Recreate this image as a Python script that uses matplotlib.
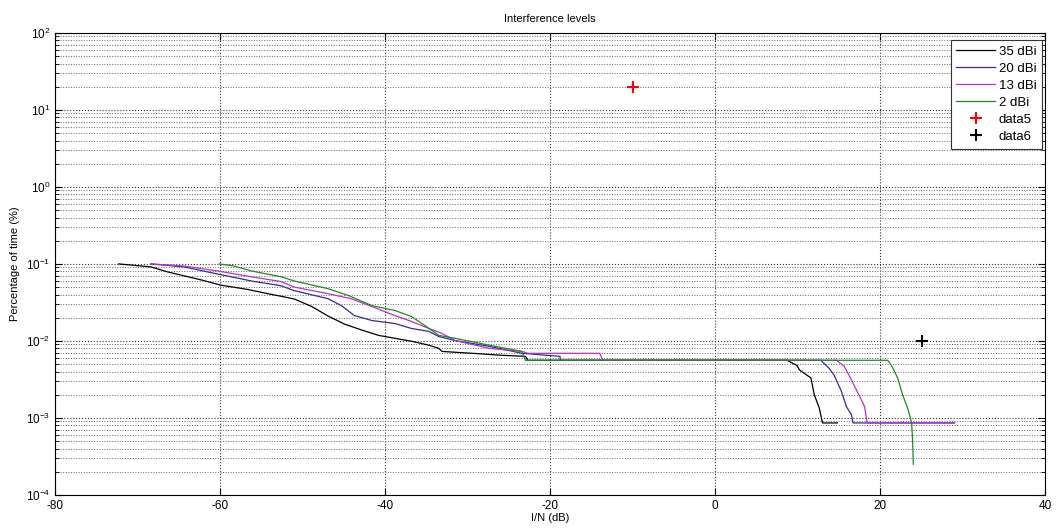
import matplotlib
matplotlib.use("Agg")
import matplotlib.pyplot as plt
from matplotlib.ticker import LogLocator, NullFormatter

plt.rcParams["font.family"] = ["Liberation Sans", "DejaVu Sans"]
plt.rcParams["axes.unicode_minus"] = False

# 35 dBi curve
X_35 = [-72.3, -68.4, -66.4, -62.3, -59.9, -56.6, -54.2, -52.6, -51.0, -48.9,
        -46.9, -44.9, -42.8, -40.8, -38.8, -36.8, -34.7, -33.5, -33.1, -29.4,
        -25.8, -23.0, -22.7, 8.7, 9.9, 10.2, 11.6, 12.0, 12.6, 13.0, 14.8]
Y_35 = [0.1, 0.0915, 0.079, 0.062, 0.053, 0.0465, 0.041, 0.038, 0.035, 0.028,
        0.021, 0.0165, 0.0138, 0.0118, 0.0108, 0.0099, 0.0088, 0.0080, 0.0073, 0.0069,
        0.0065, 0.0063, 0.0056, 0.0056, 0.0048, 0.0042, 0.0033, 0.0020, 0.00135, 0.00086, 0.00086]

# 20 dBi curve
X_20 = [-68.4, -64.4, -60.3, -56.2, -52.6, -51.0, -46.9, -45.3, -43.7, -41.6,
        -38.8, -36.8, -34.7, -33.5, -31.5, -27.4, -23.4, -18.8, -18.8, 12.8,
        13.8, 14.4, 15.3, 15.9, 16.5, 16.7, 29.0]
Y_20 = [0.1, 0.0915, 0.074, 0.060, 0.052, 0.0449, 0.0353, 0.0287, 0.0213, 0.0184,
        0.0168, 0.0145, 0.0133, 0.0114, 0.0101, 0.0085, 0.0069, 0.0063, 0.0056, 0.0056,
        0.0044, 0.0036, 0.0022, 0.0014, 0.0011, 0.00086, 0.00086]

# 13 dBi curve
X_13 = [-68.4, -64.4, -60.3, -56.2, -52.6, -51.0, -46.9, -44.1, -41.6, -38.8,
        -36.8, -34.7, -33.1, -31.5, -27.4, -23.4, -22.7, -14.0, -13.6, 14.7,
        15.6, 16.2, 17.2, 18.1, 18.4, 29.0]
Y_13 = [0.1, 0.094, 0.081, 0.068, 0.059, 0.050, 0.041, 0.0353, 0.0279, 0.0213,
        0.0179, 0.0145, 0.0125, 0.0101, 0.0080, 0.0073, 0.0069, 0.0069, 0.0056, 0.0056,
        0.0047, 0.0036, 0.0022, 0.0014, 0.00086, 0.00086]

# 2 dBi curve
X_2 = [-60.1, -58.3, -56.2, -52.6, -51.0, -46.9, -44.4, -41.6, -38.8, -36.8,
       -35.2, -33.5, -31.5, -27.4, -23.4, -23.0, 20.9, 21.4, 22.1, 22.7,
       23.3, 23.8, 23.9, 24.0]
Y_2 = [0.1, 0.094, 0.081, 0.068, 0.060, 0.0476, 0.0387, 0.0287, 0.0248, 0.0207,
       0.0159, 0.0118, 0.0108, 0.0088, 0.0073, 0.0056, 0.0056, 0.0047, 0.0033, 0.0020,
       0.00135, 0.00086, 0.00055, 0.00025]

DATA5 = (-10, 20)
DATA6 = (25, 0.01)

fig = plt.figure(figsize=(10.57, 5.31), dpi=100)
ax = fig.add_axes([0.052, 0.068, 0.937, 0.87])

ax.plot(X_35, Y_35, color="black", lw=0.9, label="35 dBi")
ax.plot(X_20, Y_20, color="#2e2e9a", lw=0.9, label="20 dBi")
ax.plot(X_13, Y_13, color="#c030c8", lw=0.9, label="13 dBi")
ax.plot(X_2, Y_2, color="#208a20", lw=0.9, label="2 dBi")
ax.plot(*DATA5, "+", color="red", ms=9, mew=1.5, label="data5")
ax.plot(*DATA6, "+", color="black", ms=9, mew=1.5, label="data6")

ax.set_yscale("log")
ax.set_xlim(-80, 40)
ax.set_ylim(1e-4, 1e2)
ax.yaxis.set_major_locator(LogLocator(base=10, numticks=10))
ax.yaxis.set_minor_locator(LogLocator(base=10, subs=range(2, 10), numticks=10))
ax.yaxis.set_minor_formatter(NullFormatter())

ax.grid(True, which="major", ls=":", color="#333333", lw=0.8)
ax.grid(True, which="minor", axis="y", ls=":", color="#666666", lw=0.7)

ax.tick_params(which="both", direction="in", top=True, right=True, labelsize=8.5)
ax.tick_params(which="major", length=5)
ax.tick_params(which="minor", length=3)

ax.set_title("Interference levels", fontsize=8, pad=8)
ax.set_xlabel("I/N (dB)", fontsize=8, labelpad=1)
ax.set_ylabel("Percentage of time (%)", fontsize=8)

leg = ax.legend(loc="upper right", bbox_to_anchor=(0.997, 0.985), borderaxespad=0,
                fontsize=9.5, fancybox=False, framealpha=1, edgecolor="#333333",
                handlelength=2.9, handletextpad=0.3, labelspacing=0.36,
                borderpad=0.45)
leg.get_frame().set_linewidth(0.8)

fig.savefig("out.png", dpi=100)
